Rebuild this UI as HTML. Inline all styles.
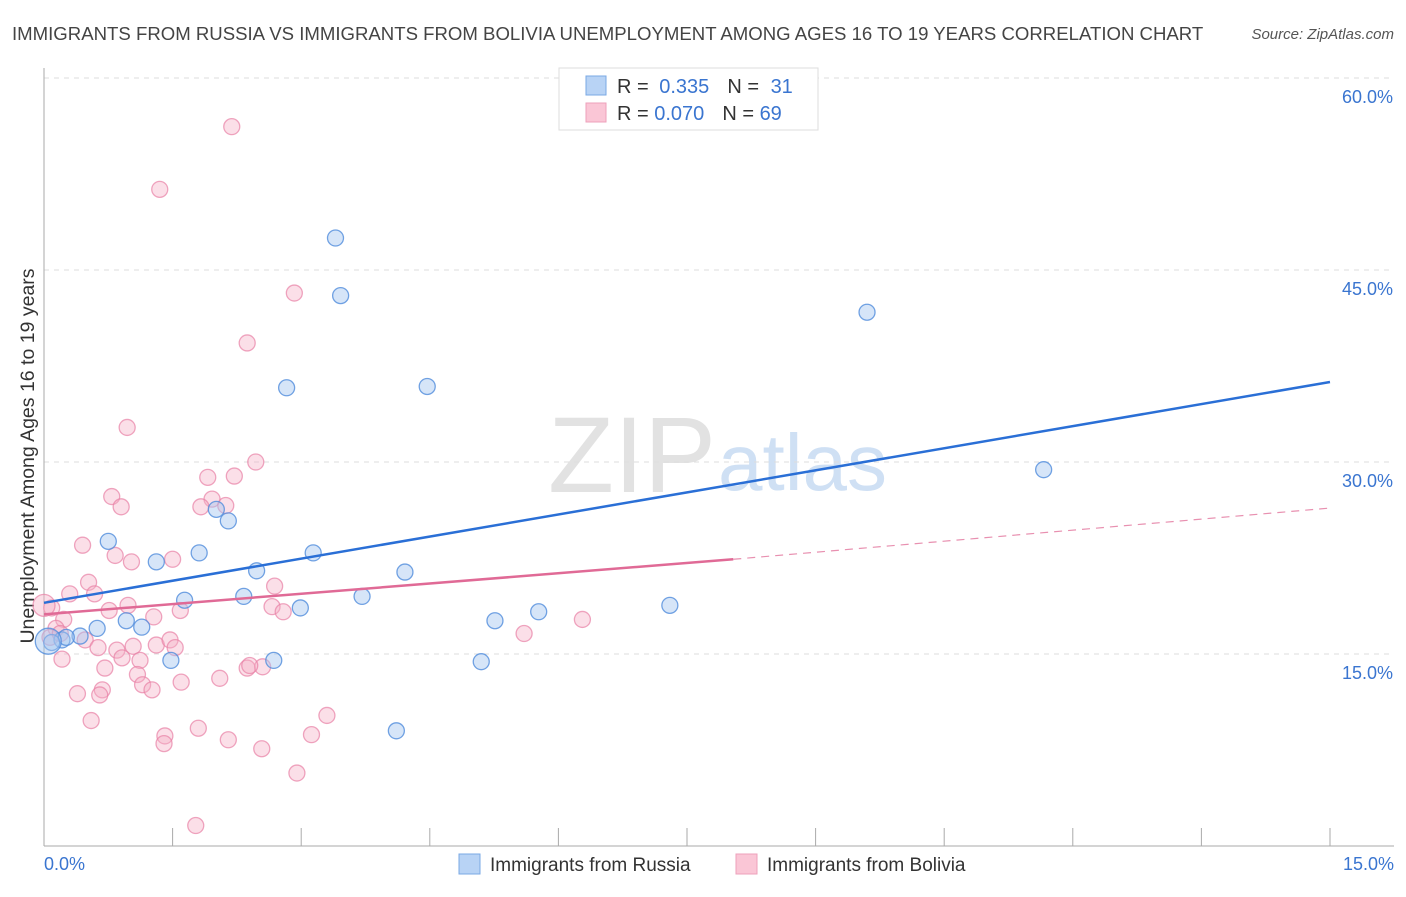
<!DOCTYPE html>
<html><head><meta charset="utf-8"><style>
body{margin:0;background:#fff;font-family:"Liberation Sans",sans-serif}
svg text{font-family:"Liberation Sans",sans-serif}
</style></head><body>
<svg width="1406" height="892" viewBox="0 0 1406 892" xmlns="http://www.w3.org/2000/svg">
<text x="12" y="40" font-size="18.6" fill="#444">IMMIGRANTS FROM RUSSIA VS IMMIGRANTS FROM BOLIVIA UNEMPLOYMENT AMONG AGES 16 TO 19 YEARS CORRELATION CHART</text>
<text x="1394" y="39" font-size="15" fill="#555" font-style="italic" text-anchor="end">Source: ZipAtlas.com</text>
<text x="716" y="492" font-size="108" fill="#e2e2e2" text-anchor="end" font-family="Liberation Serif">ZIP</text>
<text x="718" y="490" font-size="80" fill="#cfe0f4">atlas</text>
<g id="grid"></g>
<line x1="44" y1="68" x2="44" y2="846" stroke="#aaa"/>
<line x1="44" y1="846" x2="1394" y2="846" stroke="#aaa"/>
<g id="xticks"></g>
<text x="34" y="456" font-size="19.5" fill="#333" text-anchor="middle" transform="rotate(-90 34 456)">Unemployment Among Ages 16 to 19 years</text>
<text x="44" y="870" font-size="18" fill="#3a75d0">0.0%</text>
<text x="1394" y="870" font-size="18" fill="#3a75d0" text-anchor="end">15.0%</text>
<g id="points"></g>
<g id="lines"></g>
<g>
<rect x="559" y="68" width="259" height="62" fill="#fff" stroke="#ddd"/>
<rect x="586" y="76" width="20" height="19" fill="#b8d3f5" stroke="#7aa8e4"/>
<rect x="586" y="103" width="20" height="19" fill="#fac6d6" stroke="#eea0bb"/>
<text x="617" y="93" font-size="20" fill="#333">R = <tspan fill="#3a75d0" dx="5">0.335</tspan><tspan dx="18" fill="#333">N = </tspan><tspan fill="#3a75d0" dx="6">31</tspan></text>
<text x="617" y="120" font-size="20" fill="#333">R = <tspan fill="#3a75d0">0.070</tspan><tspan dx="18" fill="#333">N = </tspan><tspan fill="#3a75d0">69</tspan></text>
</g>
<g>
<rect x="459" y="854" width="21" height="20" fill="#b8d3f5" stroke="#7aa8e4"/>
<text x="490" y="871" font-size="19" fill="#333">Immigrants from Russia</text>
<rect x="736" y="854" width="21" height="20" fill="#fac6d6" stroke="#eea0bb"/>
<text x="767" y="871" font-size="19" fill="#333">Immigrants from Bolivia</text>
</g>
</svg>
<script>
const yTicks=[15,30,45,60];
const yTickLabels=["15.0%","30.0%","45.0%","60.0%"];
const xTicks=[0,1.5,3,4.5,6,7.5,9,10.5,12,13.5,15];
const russiaX=[3.40,3.46,9.60,2.83,4.47,11.66,2.15,2.01,0.75,1.31,1.81,3.14,2.48,4.21,1.64,2.33,2.99,3.71,5.26,5.77,7.30,0.96,1.14,0.62,0.42,0.21,0.26,1.48,2.68,5.10,4.11,0.09,0.05];
const russiaY=[47.5,43.0,41.7,35.8,35.9,29.4,25.4,26.3,23.8,22.2,22.9,22.9,21.5,21.4,19.2,19.5,18.6,19.5,17.6,18.3,18.8,17.6,17.1,17.0,16.4,16.1,16.3,14.5,14.5,14.4,9.0,15.9,16.0];
const russiaR=[8,8,8,8,8,8,8,8,8,8,8,8,8,8,8,8,8,8,8,8,8,8,8,8,8,8,8,8,8,8,8,8,13];
const boliviaX=[2.19,1.35,2.92,2.37,0.97,2.47,1.91,2.22,0.79,0.90,1.96,1.83,2.12,0.45,0.83,1.02,1.50,0.52,0.30,0.59,2.69,0.09,0.23,0.76,0.98,1.28,1.59,2.66,2.79,0.0,0.14,0.07,0.48,0.63,0.85,1.04,1.31,1.47,1.53,0.19,0.91,1.12,0.21,0.71,1.09,1.15,1.26,1.60,2.05,2.37,2.55,0.68,0.39,0.65,0.55,1.41,1.40,1.80,2.15,3.12,3.30,2.54,2.95,1.77,5.60,6.28,2.40];
const boliviaY=[56.2,51.3,43.2,39.3,32.7,30.0,28.8,28.9,27.3,26.5,27.1,26.5,26.6,23.5,22.7,22.2,22.4,20.6,19.7,19.7,20.3,18.6,17.7,18.4,18.8,17.9,18.4,18.7,18.3,18.8,17.0,16.3,16.1,15.5,15.3,15.6,15.7,16.1,15.5,16.6,14.7,14.5,14.6,13.9,13.4,12.6,12.2,12.8,13.1,13.9,14.0,12.2,11.9,11.8,9.8,8.6,8.0,9.2,8.3,8.7,10.2,7.6,5.7,1.6,16.6,17.7,14.1];
const boliviaR=boliviaX.map((v,i)=>i===29?11:8);
const russiaTrend=[19.0,36.25];
const boliviaTrend=[18.1,22.4,26.4];
const boliviaSolidEnd=8.04;

const NS="http://www.w3.org/2000/svg";
const X=v=>44+v*85.733;
const Y=v=>846-v*12.8;
function mk(t,a,p){const e=document.createElementNS(NS,t);for(const k in a)e.setAttribute(k,a[k]);p.appendChild(e);return e;}
const grid=document.getElementById('grid');
yTicks.forEach((t,i)=>{
  const l=mk('line',{x1:44,x2:1394,y1:Y(t),y2:Y(t),stroke:'#ddd','stroke-dasharray':'5,5'},grid);
  
  
  const tx=mk('text',{x:1393,y:Y(t)+25,'font-size':18,fill:'#3a75d0','text-anchor':'end'},grid);
  tx.textContent=yTickLabels[i];
  
  
});
const xt=document.getElementById('xticks');
xTicks.forEach(t=>{
  const l=mk('line',{x1:X(t),x2:X(t),y1:828,y2:846,stroke:'#aaa'},xt);
  
  
});
const pts=document.getElementById('points');
boliviaX.forEach((x,i)=>{
  const c=mk('circle',{cx:X(x),cy:Y(boliviaY[i]),r:boliviaR[i],fill:'rgba(246,175,198,0.4)',stroke:'rgba(232,128,165,0.7)','stroke-width':1.3},pts);
  
  
});
russiaX.forEach((x,i)=>{
  const c=mk('circle',{cx:X(x),cy:Y(russiaY[i]),r:russiaR[i],fill:'rgba(165,198,240,0.45)',stroke:'rgba(80,140,220,0.8)','stroke-width':1.3},pts);
  
  
});
const ln=document.getElementById('lines');
let a=mk('line',{x1:X(0),y1:Y(russiaTrend[0]),x2:X(15),y2:Y(russiaTrend[1]),stroke:'#2a6fd6','stroke-width':2.5},ln);


let b=mk('line',{x1:X(0),y1:Y(boliviaTrend[0]),x2:X(boliviaSolidEnd),y2:Y(boliviaTrend[1]),stroke:'#e06a96','stroke-width':2.5},ln);


let c=mk('line',{x1:X(boliviaSolidEnd),y1:Y(boliviaTrend[1]),x2:X(15),y2:Y(boliviaTrend[2]),stroke:'#e890b0','stroke-width':1.2,'stroke-dasharray':'8,6'},ln);


</script>
</body></html>
